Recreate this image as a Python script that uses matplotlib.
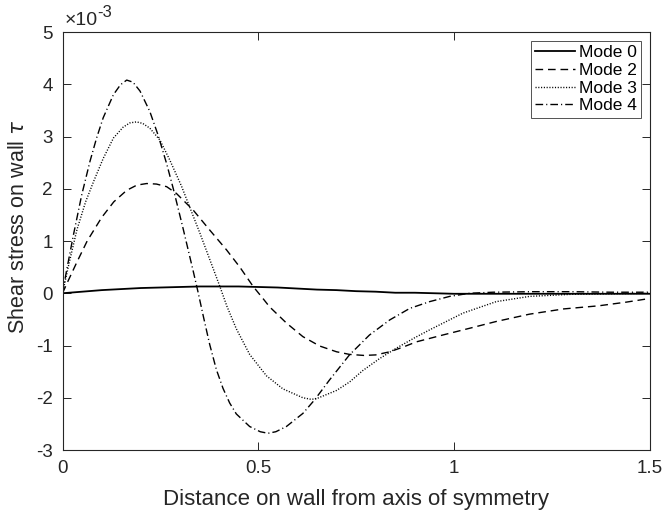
import matplotlib
matplotlib.use("Agg")
import matplotlib.pyplot as plt

plt.rcParams["font.family"] = ["Liberation Sans", "DejaVu Sans"]
plt.rcParams["axes.unicode_minus"] = False
plt.rcParams["mathtext.fontset"] = "dejavusans"

# shear stress values are in units of 1e-3
x_mode0 = [0.0, 0.05, 0.1, 0.15, 0.2, 0.25, 0.3, 0.35, 0.4, 0.45, 0.5, 0.55, 0.6, 0.65,
           0.7, 0.75, 0.8, 0.85, 0.9, 0.95, 1.0, 1.1, 1.2, 1.3, 1.4, 1.5]
tau_mode0 = [0.0, 0.03, 0.06, 0.08, 0.10, 0.11, 0.12, 0.13, 0.13, 0.13, 0.12, 0.11, 0.09, 0.07,
             0.06, 0.04, 0.03, 0.01, 0.01, 0.0, -0.01, -0.01, -0.01, -0.01, -0.01, -0.01]

x_mode2 = [0.0, 0.012, 0.037, 0.063, 0.1, 0.131, 0.164, 0.19, 0.215, 0.24, 0.266, 0.291,
           0.334, 0.376, 0.419, 0.453, 0.487, 0.512, 0.529, 0.572, 0.614, 0.657, 0.7,
           0.733, 0.77, 0.8, 0.836, 0.87, 0.904, 0.971, 1.04, 1.108, 1.193, 1.28, 1.37,
           1.44, 1.5]
tau_mode2 = [0.0, 0.20, 0.60, 1.00, 1.45, 1.75, 1.97, 2.07, 2.10, 2.09, 2.04, 1.91,
             1.59, 1.21, 0.83, 0.50, 0.13, -0.10, -0.26, -0.57, -0.83, -1.01, -1.12,
             -1.17, -1.19, -1.18, -1.12, -1.03, -0.93, -0.80, -0.67, -0.54, -0.40, -0.30, -0.24,
             -0.17, -0.10]

x_mode3 = [0.0, 0.016, 0.037, 0.059, 0.08, 0.104, 0.13, 0.155, 0.172, 0.189, 0.205, 0.223,
           0.249, 0.274, 0.304, 0.317, 0.351, 0.38, 0.402, 0.42, 0.444, 0.478, 0.521,
           0.563, 0.614, 0.635, 0.648, 0.7, 0.733, 0.767, 0.81, 0.853, 0.9, 0.938, 1.023,
           1.108, 1.193, 1.3, 1.4, 1.5]
tau_mode3 = [0.0, 0.55, 1.22, 1.75, 2.15, 2.58, 2.97, 3.18, 3.26, 3.28, 3.25, 3.16,
             2.93, 2.55, 2.05, 1.80, 1.15, 0.57, 0.13, -0.25, -0.68, -1.17, -1.58,
             -1.83, -2.00, -2.03, -2.02, -1.86, -1.70, -1.48, -1.25, -1.05, -0.85, -0.70, -0.38,
             -0.16, -0.06, -0.02, -0.01, 0.0]

x_mode4 = [0.0, 0.01, 0.028, 0.049, 0.07, 0.087, 0.104, 0.13, 0.148, 0.164, 0.18, 0.198,
           0.223, 0.244, 0.266, 0.283, 0.308, 0.334, 0.346, 0.36, 0.376, 0.393, 0.41,
           0.427, 0.444, 0.478, 0.505, 0.525, 0.545, 0.572, 0.614, 0.644, 0.682, 0.733,
           0.784, 0.836, 0.887, 0.938, 0.989, 1.04, 1.1, 1.2, 1.3, 1.4, 1.5]
tau_mode4 = [0.0, 0.42, 1.12, 1.88, 2.52, 2.97, 3.36, 3.80, 3.99, 4.08, 4.04, 3.87,
             3.48, 3.03, 2.48, 2.00, 1.24, 0.42, 0.03, -0.45, -0.98, -1.46, -1.82,
             -2.10, -2.31, -2.55, -2.65, -2.68, -2.65, -2.55, -2.30, -2.04, -1.66, -1.18,
             -0.80, -0.51, -0.29, -0.16, -0.06, 0.0, 0.02, 0.03, 0.03, 0.02, 0.02]

labels = ["Mode 0", "Mode 2", "Mode 3", "Mode 4"]

axcol = "#262626"
fig = plt.figure(figsize=(6.65, 5.13), dpi=100)
ax = fig.add_axes([0.094, 0.1228, 0.883, 0.8148])

lw = 1.0
ax.plot(x_mode0, tau_mode0, color="black", lw=1.3, linestyle="-", label=labels[0])
ax.plot(x_mode2, tau_mode2, color="black", lw=lw, linestyle=(0, (5.5, 3.5)), label=labels[1])
ax.plot(x_mode3, tau_mode3, color="black", lw=lw, linestyle=(0, (0.8, 1.2)), label=labels[2])
ax.plot(x_mode4, tau_mode4, color="black", lw=lw, linestyle=(0, (5.5, 2.2, 0.8, 2.2)), label=labels[3])

ax.set_xlim(0, 1.5)
ax.set_ylim(-3, 5)
ax.set_xticks([0, 0.5, 1, 1.5])
ax.set_xticklabels(["0", "0.5", "1", "1.5"])
ax.set_yticks(range(-3, 6))

for s in ax.spines.values():
    s.set_color(axcol)
    s.set_linewidth(0.8)
ax.tick_params(direction="in", top=True, right=True, length=6, width=0.7,
               colors=axcol, labelsize=13.5, pad=7)
ax.tick_params(labelcolor=axcol)

ax.set_xlabel("Distance on wall from axis of symmetry", fontsize=16, color=axcol, labelpad=9)
ax.set_ylabel(r"Shear stress on wall $\tau$", fontsize=15.5, color=axcol)
ax.yaxis.set_label_coords(-0.057, 0.535)

# exponent label like MATLAB's
ax.text(0.003, 1.008, "\u00d710", transform=ax.transAxes, fontsize=14, color=axcol,
        ha="left", va="bottom")
ax.text(0.060, 1.028, "-3", transform=ax.transAxes, fontsize=12, color=axcol,
        ha="left", va="bottom")

leg = ax.legend(loc="upper right", fontsize=12.5, frameon=True, fancybox=False,
                edgecolor=axcol, handlelength=2.3, handletextpad=0.2,
                borderpad=0.25, labelspacing=0.15, borderaxespad=0.5)
leg.get_frame().set_linewidth(0.7)

fig.savefig("out.png", dpi=100)
